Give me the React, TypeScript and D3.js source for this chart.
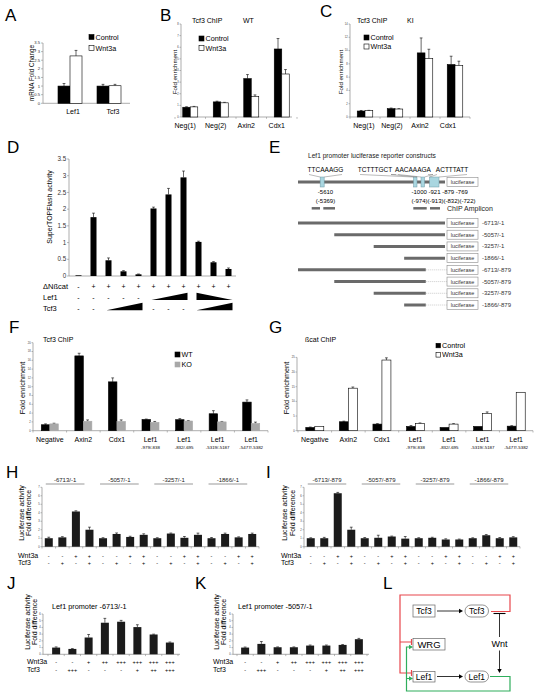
import React from "react";
import * as d3 from "d3";

const FONT = "'Liberation Sans', Arial, Helvetica, sans-serif";
const AXIS = "#8a8a8a";

// ---------- Panel A ----------
const aCats = ["Lef1", "Tcf3"];
const aControl = [1.0, 1.0];
const aControlErr = [0.15, 0.1];
const aWnt3a = [2.75, 1.02];
const aWnt3aErr = [0.32, 0.08];
const aTicks = [0, 0.5, 1, 1.5, 2, 2.5, 3, 3.5];

// ---------- Panels B / C ----------
const chipCats = ["Neg(1)", "Neg(2)", "Axin2", "Cdx1"];
const bControl = [0.84, 1.3, 3.3, 5.85];
const bControlErr = [0.04, 0.06, 0.35, 0.9];
const bWnt3a = [0.87, 1.22, 1.75, 3.7];
const bWnt3aErr = [0.04, 0.04, 0.15, 0.38];
const bTicks = [0, 1, 2, 3, 4, 5, 6, 7, 8];
const cControl = [0.9, 1.25, 9.65, 7.9];
const cControlErr = [0.08, 0.1, 2.25, 1.25];
const cWnt3a = [0.95, 1.2, 8.8, 7.75];
const cWnt3aErr = [0.05, 0.05, 1.4, 0.65];
const cTicks = [0, 2, 4, 6, 8, 10, 12, 14];

// ---------- Panel D ----------
const dConds = ["d1", "d2", "d3", "d4", "d5", "d6", "d7", "d8", "d9", "d10", "d11"];
const dActivity = [0.02, 1.76, 0.47, 0.14, 0.05, 2.02, 2.44, 2.95, 1.02, 0.41, 0.21];
const dErr = [0, 0.12, 0.07, 0.02, 0.01, 0.04, 0.18, 0.19, 0.02, 0.02, 0.03];
const dTicks = [0, 0.5, 1, 1.5, 2, 2.5, 3, 3.5];
const dBcat = ["-", "+", "+", "+", "+", "+", "+", "+", "+", "+", "+"];
const dLef1 = ["-", "-", "-", "-", "-", "", "", "", "", "", ""];
const dTcf3 = ["-", "-", "", "", "", "-", "-", "-", "", "", ""];
const dLef1Wedges = [["d6", "d8", "up"], ["d9", "d11", "down"]];
const dTcf3Wedges = [["d3", "d5", "up"], ["d9", "d11", "up"]];

// ---------- Panel E ----------
const eConstructs = ["-6713/-1", "-5057/-1", "-3257/-1", "-1866/-1", "-6713/-879", "-5057/-879", "-3257/-879", "-1866/-879"];
const eStarts = [-6713, -5057, -3257, -1866, -6713, -5057, -3257, -1866];
const eEnds = [-1, -1, -1, -1, -879, -879, -879, -879];

// ---------- Panels F / G ----------
const fgCats = ["neg", "axin2", "cdx1", "l1", "l2", "l3", "l4"];
const fgTop = ["Negative", "Axin2", "Cdx1", "Lef1", "Lef1", "Lef1", "Lef1"];
const fgSub = ["", "", "", "-979/-838", "-832/-695", "-5319/-5187", "-5477/-5382"];
const fWT = [1.35, 17.0, 11.1, 2.55, 2.5, 3.85, 6.5];
const fWTErr = [0.2, 0.6, 0.9, 0.1, 0.25, 0.7, 0.5];
const fKO = [1.55, 2.15, 2.1, 1.9, 2.2, 2.0, 1.65];
const fKOErr = [0.15, 0.3, 0.35, 0.2, 0.1, 0.1, 0.3];
const fTicks = [0, 2, 4, 6, 8, 10, 12, 14, 16, 18, 20];
const gControl = [1.1, 3.05, 2.25, 1.45, 1.1, 1.45, 1.55];
const gControlErr = [0.15, 0.2, 0.15, 0.3, 0.1, 0.1, 0.15];
const gWnt3a = [1.45, 14.5, 24.1, 2.45, 2.25, 5.9, 13.1];
const gWnt3aErr = [0.1, 0.4, 0.75, 0.2, 0.15, 0.5, 0.1];
const gTicks = [0, 5, 10, 15, 20, 25];

// ---------- Panels H / I ----------
const hiCats = ["h1", "h2", "h3", "h4", "h5", "h6", "h7", "h8", "h9", "h10", "h11", "h12", "h13", "h14", "h15", "h16"];
const hHeaders = ["-6713/-1", "-5057/-1", "-3257/-1", "-1866/-1"];
const iHeaders = ["-6713/-879", "-5057/-879", "-3257/-879", "-1866/-879"];
const hiWnt3a = ["-", "-", "+", "+", "-", "-", "+", "+", "-", "-", "+", "+", "-", "-", "+", "+"];
const hiTcf3 = ["-", "+", "-", "+", "-", "+", "-", "+", "-", "+", "-", "+", "-", "+", "-", "+"];
const hValues = [1.0, 1.1, 4.15, 2.0, 1.0, 1.5, 1.15, 1.4, 1.0, 1.55, 1.05, 1.4, 1.0, 1.5, 1.1, 1.5];
const hErr = [0.12, 0.08, 0.08, 0.3, 0.06, 0.12, 0.08, 0.12, 0.06, 0.06, 0.15, 0.2, 0.08, 0.1, 0.06, 0.1];
const iValues = [1.0, 1.0, 6.3, 2.0, 1.0, 1.05, 1.2, 0.95, 1.0, 1.05, 0.85, 0.85, 1.0, 1.35, 1.0, 1.1];
const iErr = [0.05, 0.1, 0.1, 0.3, 0.08, 0.3, 0.05, 0.25, 0.06, 0.06, 0.08, 0.05, 0.05, 0.08, 0.08, 0.08];
const hiTicks = [0, 1, 2, 3, 4, 5, 6, 7];

// ---------- Panels J / K ----------
const jkCats = ["j1", "j2", "j3", "j4", "j5", "j6", "j7", "j8"];
const jkWnt3a = ["-", "-", "+", "++", "+++", "+++", "+++", "+++"];
const jkTcf3 = ["-", "+++", "-", "-", "-", "+", "++", "+++"];
const jValues = [1.0, 0.8, 2.5, 4.7, 4.85, 4.05, 2.95, 1.75];
const jErr = [0.1, 0.05, 0.45, 0.65, 0.2, 0.35, 0.05, 0.08];
const kValues = [1.0, 1.55, 1.05, 1.05, 1.3, 1.3, 1.4, 2.25];
const kErr = [0.08, 0.35, 0.05, 0.05, 0.08, 0.08, 0.05, 0.12];
const jkTicks = [0, 1, 2, 3, 4, 5, 6];

// ================= helpers =================
function YAxis({ x, y, ticks, fontSize, tick = 2, fmt }: any) {
  const lo = d3.min(ticks) as number;
  const hi = d3.max(ticks) as number;
  return (
    <g>
      <line x1={x} x2={x} y1={y(lo)} y2={y(hi)} stroke={AXIS} strokeWidth={0.7} />
      {ticks.map((t: number, i: number) => (
        <g key={i}>
          <line x1={x - tick} x2={x} y1={y(t)} y2={y(t)} stroke={AXIS} strokeWidth={0.6} />
          <text x={x - tick - 0.8} y={y(t)} dy="0.35em" textAnchor="end" fontSize={fontSize} fill="#333">
            {fmt ? fmt(t) : String(t)}
          </text>
        </g>
      ))}
    </g>
  );
}

function XAxis({ x1, x2, y, bounds }: any) {
  return (
    <g>
      <line x1={x1} x2={x2} y1={y} y2={y} stroke={AXIS} strokeWidth={0.7} />
      {bounds &&
        bounds.map((b: number, i: number) => (
          <line key={i} x1={b} x2={b} y1={y} y2={y + 1.8} stroke={AXIS} strokeWidth={0.6} />
        ))}
    </g>
  );
}

function ErrBar({ cx, y0, y1 }: any) {
  if (Math.abs(y0 - y1) < 0.3) return null;
  return (
    <g>
      <line x1={cx} x2={cx} y1={y0} y2={y1} stroke="#000" strokeWidth={0.6} />
      <line x1={cx - 1.4} x2={cx + 1.4} y1={y1} y2={y1} stroke="#000" strokeWidth={0.6} />
    </g>
  );
}

function Grouped({ cats, range, y, series, groupW }: any) {
  const x = d3.scaleBand<string>().domain(cats).range(range);
  const bw = groupW / series.length;
  return (
    <g>
      {cats.map((c: string, i: number) =>
        series.map((s: any, j: number) => {
          const left = (x(c) as number) + x.bandwidth() / 2 - groupW / 2 + j * bw;
          const v = s.values[i];
          const e = s.errs[i];
          return (
            <g key={c + j}>
              <ErrBar cx={left + bw / 2} y0={y(v)} y1={y(v + e)} />
              <rect x={left} y={y(v)} width={bw} height={y(0) - y(v)} fill={s.fill} stroke={s.stroke || "#000"} strokeWidth={0.6} />
            </g>
          );
        })
      )}
    </g>
  );
}

function bounds(cats: string[], range: number[]) {
  const x = d3.scaleBand<string>().domain(cats).range(range as [number, number]);
  return [...cats.map((c) => x(c) as number), range[1]];
}

function CatLabels({ cats, labels, range, y, size, sub, subY, subSize }: any) {
  const x = d3.scaleBand<string>().domain(cats).range(range);
  return (
    <g>
      {cats.map((c: string, i: number) => {
        const cx = (x(c) as number) + x.bandwidth() / 2;
        return (
          <g key={c}>
            <text x={cx} y={y} fontSize={size} textAnchor="middle">
              {labels ? labels[i] : c}
            </text>
            {sub && sub[i] ? (
              <text x={cx} y={subY} fontSize={subSize} textAnchor="middle">
                {sub[i]}
              </text>
            ) : null}
          </g>
        );
      })}
    </g>
  );
}

function RotLabel({ x, y, text, size }: any) {
  return (
    <text transform={`translate(${x},${y}) rotate(-90)`} textAnchor="middle" fontSize={size}>
      {text}
    </text>
  );
}

function Legend({ x, y, items, size, step, box = 5 }: any) {
  return (
    <g>
      {items.map((it: any, i: number) => (
        <g key={i}>
          <rect x={x} y={y + i * step} width={box} height={box} fill={it[1]} stroke={it[1] === "#fff" ? "#000" : it[1]} strokeWidth={0.6} />
          <text x={x + box + 1.5} y={y + i * step + box} fontSize={size}>
            {it[0]}
          </text>
        </g>
      ))}
    </g>
  );
}

function Letter({ x, y, t }: any) {
  return (
    <text x={x} y={y} fontSize={17}>
      {t}
    </text>
  );
}

// ================= panels =================
function PanelA() {
  const y = d3.scaleLinear().domain([0, 3.5]).range([103.3, 43]);
  const range = [50.5, 128.5];
  return (
    <g>
      <Letter x={5} y={21} t="A" />
      <YAxis x={43} y={y} ticks={aTicks} fontSize={4.2} />
      <XAxis x1={43} x2={130} y={y(0)} />
      <Grouped cats={aCats} range={range} y={y} groupW={24}
        series={[{ values: aControl, errs: aControlErr, fill: "#000" }, { values: aWnt3a, errs: aWnt3aErr, fill: "#fff" }]} />
      <CatLabels cats={aCats} range={[53, 133]} y={114} size={7} />
      <RotLabel x={33.5} y={73} text="mRNA Fold Change" size={6.3} />
      <Legend x={89} y={34.5} items={[["Control", "#000"], ["Wnt3a", "#fff"]]} size={7.2} step={11} />
    </g>
  );
}

function PanelB() {
  const y = d3.scaleLinear().domain([0, 8]).range([117, 24]);
  const range = [175, 297];
  return (
    <g>
      <Letter x={160} y={21} t="B" />
      <text x={192} y={22.5} fontSize={7}>Tcf3 ChIP</text>
      <text x={243} y={22.5} fontSize={7}>WT</text>
      <YAxis x={181} y={y} ticks={bTicks} fontSize={2.6} tick={1.5} />
      <XAxis x1={181} x2={292} y={y(0)} bounds={bounds(chipCats, range)} />
      <Grouped cats={chipCats} range={range} y={y} groupW={15}
        series={[{ values: bControl, errs: bControlErr, fill: "#000" }, { values: bWnt3a, errs: bWnt3aErr, fill: "#fff" }]} />
      <CatLabels cats={chipCats} range={[170, 292]} y={128} size={7} />
      <RotLabel x={177} y={72} text="Fold enrichment" size={6.2} />
      <Legend x={199} y={36} items={[["Control", "#000"], ["Wnt3a", "#fff"]]} size={7.2} step={9.5} />
    </g>
  );
}

function PanelC() {
  const y = d3.scaleLinear().domain([0, 14]).range([117, 24]);
  const range = [350, 470];
  return (
    <g>
      <Letter x={320} y={17} t="C" />
      <text x={357} y={22.5} fontSize={7}>Tcf3 ChIP</text>
      <text x={407} y={22.5} fontSize={7}>KI</text>
      <YAxis x={350} y={y} ticks={cTicks} fontSize={2.6} tick={1.5} />
      <XAxis x1={350} x2={470} y={y(0)} bounds={bounds(chipCats, range)} />
      <Grouped cats={chipCats} range={range} y={y} groupW={15.5}
        series={[{ values: cControl, errs: cControlErr, fill: "#000" }, { values: cWnt3a, errs: cWnt3aErr, fill: "#fff" }]} />
      <CatLabels cats={chipCats} range={[350, 462]} y={128} size={7} />
      <RotLabel x={343} y={72} text="Fold enrichment" size={6.2} />
      <Legend x={364} y={35} items={[["Control", "#000"], ["Wnt3a", "#fff"]]} size={7.2} step={9} />
    </g>
  );
}

function PanelD() {
  const range = [71, 236];
  const x = d3.scaleBand<string>().domain(dConds).range(range as [number, number]);
  const y = d3.scaleLinear().domain([0, 3.5]).range([276, 159]);
  const cx = (c: string) => (x(c) as number) + x.bandwidth() / 2;
  const rowY = [289, 300, 310.5];
  const wedge = (w: any, base: number, h: number) => {
    const xl = cx(w[0]) - 2;
    const xr = cx(w[1]) + 4;
    const pts = w[2] === "up" ? [[xl, base], [xr, base], [xr, base - h]] : [[xl, base], [xr, base], [xl, base - h]];
    return <polygon points={pts.map((p) => p.join(",")).join(" ")} fill="#000" />;
  };
  return (
    <g>
      <Letter x={7} y={153} t="D" />
      <YAxis x={69} y={y} ticks={dTicks} fontSize={6.3} tick={2} />
      <XAxis x1={69} x2={236} y={y(0)} />
      {dConds.map((c, i) => (
        <g key={c}>
          <ErrBar cx={cx(c)} y0={y(dActivity[i])} y1={y(dActivity[i] + dErr[i])} />
          <rect x={cx(c) - 3} y={y(dActivity[i])} width={6} height={y(0) - y(dActivity[i])} fill="#000" />
        </g>
      ))}
      <RotLabel x={52} y={207} text="SuperTOPFlash activity" size={7} />
      <text x={43} y={rowY[0]} fontSize={7.5}>ΔNßcat</text>
      <text x={43} y={rowY[1]} fontSize={7.5}>Lef1</text>
      <text x={43} y={rowY[2]} fontSize={7.5}>Tcf3</text>
      {[dBcat, dLef1, dTcf3].map((row, r) =>
        row.map((m, i) => (m ? (
          <text key={r + "-" + i} x={cx(dConds[i])} y={rowY[r]} fontSize={7} textAnchor="middle">{m}</text>
        ) : null))
      )}
      {dLef1Wedges.map((w, i) => <g key={"lw" + i}>{wedge(w, 300, 7.3)}</g>)}
      {dTcf3Wedges.map((w, i) => <g key={"tw" + i}>{wedge(w, 310.3, 7.5)}</g>)}
    </g>
  );
}

function PanelE() {
  const xs = d3.scaleLinear().domain([-6713, -1]).range([298, 445]);
  const ys = d3.scalePoint<string>().domain(eConstructs).range([223, 305]);
  const lineC = "#6a6a6a";
  const luc = (yc: number, key: string) => (
    <g key={key}>
      <rect x={447} y={yc - 4.5} width={31} height={9} fill="#fff" stroke="#8a8a8a" strokeWidth={0.6} />
      <text x={462.5} y={yc + 2} fontSize={5.5} textAnchor="middle" fill="#333">luciferase</text>
    </g>
  );
  const site = (x0: number, w: number, key: string) => (
    <rect key={key} x={x0} y={177} width={w} height={10} fill="#a9d6e0" stroke="#6f9aa6" strokeWidth={0.5} />
  );
  const seqY = 172.3;
  return (
    <g>
      <Letter x={269} y={153} t="E" />
      <text x={308} y={158.3} fontSize={6.6} fill="#222">Lef1 promoter luciferase reporter constructs</text>
      <line x1={xs(-6713)} x2={xs(-1)} y1={182} y2={182} stroke={lineC} strokeWidth={3} />
      {luc(182, "main")}
      {site(xs(-5610) - 2, 4, "s1")}
      {site(413.5, 3.5, "s2")}
      {site(421, 3.5, "s3")}
      {site(429.5, 9.5, "s4")}
      <text x={325.5} y={seqY} fontSize={6.5} textAnchor="middle">TTCAAAGG</text>
      <text x={375} y={seqY} fontSize={6.5} textAnchor="middle">TCTTTGCT</text>
      <text x={413} y={seqY} fontSize={6.5} textAnchor="middle">AACAAAGA</text>
      <text x={452} y={seqY} fontSize={6.5} textAnchor="middle">ACTTTATT</text>
      <g stroke="#777" strokeWidth={0.5} fill="none">
        <path d={`M309,174.5 L${xs(-5610) - 2},177 M342,174.5 L${xs(-5610) + 2},177`} />
        <path d="M391,174.5 L396,174.5 M360,174.5 L413.5,177 M391,174.5 L417,177" />
        <path d="M398,174.5 L421,177 M428,174.5 L433,174.5 L424.5,177" />
        <path d="M437,174.5 L429.5,177 M467,174.5 L439,177" />
      </g>
      <text x={325.5} y={194} fontSize={6} textAnchor="middle">-5610</text>
      <text x={325.5} y={203.3} fontSize={6} textAnchor="middle">(-5369)</text>
      <text x={411.5} y={194} fontSize={6}>-1000 -921 -879 -769</text>
      <text x={411.5} y={203.3} fontSize={6}>(-974)(-913)(-832)(-722)</text>
      <g stroke={lineC} strokeWidth={2.5}>
        <line x1={311.7} x2={320} y1={208.3} y2={208.3} />
        <line x1={323.3} x2={335} y1={208.3} y2={208.3} />
        <line x1={413.3} x2={426.7} y1={208.3} y2={208.3} />
        <line x1={430} x2={440} y1={208.3} y2={208.3} />
      </g>
      <text x={447} y={210.5} fontSize={7} fill="#222">ChIP Amplicon</text>
      {eConstructs.map((c, i) => {
        const yc = ys(c) as number;
        return (
          <g key={c}>
            <line x1={xs(eStarts[i])} x2={xs(eEnds[i])} y1={yc} y2={yc} stroke={lineC} strokeWidth={3} />
            {eEnds[i] !== -1 ? (
              <line x1={xs(eEnds[i])} x2={447} y1={yc} y2={yc} stroke="#999" strokeWidth={0.5} strokeDasharray="1,1" />
            ) : null}
            {luc(yc, "l" + i)}
            <text x={482} y={yc + 2} fontSize={6} fill="#333">{c}</text>
          </g>
        );
      })}
    </g>
  );
}

function PanelF() {
  const y = d3.scaleLinear().domain([0, 20]).range([430.7, 342.7]);
  const range = [33, 268];
  return (
    <g>
      <Letter x={9} y={333} t="F" />
      <text x={43} y={341.7} fontSize={7}>Tcf3 ChIP</text>
      <YAxis x={33} y={y} ticks={fTicks} fontSize={2.6} tick={1.5} />
      <XAxis x1={33} x2={268} y={y(0)} bounds={bounds(fgCats, range)} />
      <Grouped cats={fgCats} range={range} y={y} groupW={17}
        series={[{ values: fWT, errs: fWTErr, fill: "#000" }, { values: fKO, errs: fKOErr, fill: "#a8a8a8", stroke: "#a8a8a8" }]} />
      <CatLabels cats={fgCats} labels={fgTop} sub={fgSub} range={range} y={442.3} size={7} subY={448.5} subSize={4.4} />
      <RotLabel x={25} y={388} text="Fold enrichment" size={7.3} />
      <Legend x={175} y={352} items={[["WT", "#000"], ["KO", "#a8a8a8"]]} size={7.2} step={10} />
    </g>
  );
}

function PanelG() {
  const y = d3.scaleLinear().domain([0, 25]).range([430.7, 357.4]);
  const range = [298, 533];
  return (
    <g>
      <Letter x={269} y={333} t="G" />
      <text x={305} y={341.7} fontSize={7}>ßcat ChIP</text>
      <YAxis x={297} y={y} ticks={gTicks} fontSize={2.6} tick={1.5} />
      <XAxis x1={297} x2={533} y={y(0)} bounds={bounds(fgCats, range)} />
      <Grouped cats={fgCats} range={range} y={y} groupW={18}
        series={[{ values: gControl, errs: gControlErr, fill: "#000" }, { values: gWnt3a, errs: gWnt3aErr, fill: "#fff" }]} />
      <CatLabels cats={fgCats} labels={fgTop} sub={fgSub} range={range} y={442.3} size={7} subY={448.5} subSize={4.4} />
      <RotLabel x={289} y={388} text="Fold enrichment" size={7.3} />
      <Legend x={436} y={343.3} items={[["Control", "#000"], ["Wnt3a", "#fff"]]} size={7.2} step={9.3} box={4.5} />
    </g>
  );
}

function LucChart({ cats, values, errs, range, axisX, axisEnd, y, barW, ticks }: any) {
  const x = d3.scaleBand<string>().domain(cats).range(range);
  const c = (k: string) => (x(k) as number) + x.bandwidth() / 2;
  return (
    <g>
      <YAxis x={axisX} y={y} ticks={ticks} fontSize={2.6} tick={1.5} />
      <XAxis x1={axisX} x2={axisEnd} y={y(0)} bounds={bounds(cats, range)} />
      {cats.map((k: string, i: number) => (
        <g key={k}>
          <ErrBar cx={c(k)} y0={y(values[i])} y1={y(values[i] + errs[i])} />
          <rect x={c(k) - barW / 2} y={y(values[i])} width={barW} height={y(0) - y(values[i])} fill="#1b1b1b" />
        </g>
      ))}
    </g>
  );
}

function MarkRows({ cats, range, rows, ys, size, labels, labelX, labelSize }: any) {
  const x = d3.scaleBand<string>().domain(cats).range(range);
  const c = (k: string) => (x(k) as number) + x.bandwidth() / 2;
  return (
    <g>
      {labels.map((l: string, r: number) => (
        <text key={l} x={labelX} y={ys[r]} fontSize={labelSize}>{l}</text>
      ))}
      {rows.map((row: string[], r: number) =>
        row.map((m: string, i: number) => (
          <text key={r + "-" + i} x={c(cats[i])} y={ys[r]} fontSize={size} textAnchor="middle">{m}</text>
        ))
      )}
    </g>
  );
}

function Headers({ cats, range, headers }: any) {
  const x = d3.scaleBand<string>().domain(cats).range(range);
  const c = (k: string) => (x(k) as number) + x.bandwidth() / 2;
  return (
    <g>
      {headers.map((h: string, g: number) => {
        const x1 = c(cats[g * 4]) - 3;
        const x2 = c(cats[g * 4 + 3]) - 5;
        return (
          <g key={h}>
            <line x1={x1} x2={x2} y1={484} y2={484} stroke="#555" strokeWidth={0.6} />
            <text x={(x1 + x2) / 2} y={482.3} fontSize={6} textAnchor="middle" fill="#222">{h}</text>
          </g>
        );
      })}
    </g>
  );
}

function PanelH() {
  const y = d3.scaleLinear().domain([0, 7]).range([546.7, 487.3]);
  const range = [42, 259];
  return (
    <g>
      <Letter x={6} y={478} t="H" />
      <Headers cats={hiCats} range={range} headers={hHeaders} />
      <LucChart cats={hiCats} values={hValues} errs={hErr} range={range} axisX={42} axisEnd={259} y={y} barW={8} ticks={hiTicks} />
      <RotLabel x={23.5} y={513} text="Luciferase activity" size={7} />
      <RotLabel x={31} y={513} text="Fold difference" size={7} />
      <MarkRows cats={hiCats} range={range} rows={[hiWnt3a, hiTcf3]} ys={[557.7, 565]} size={5.5}
        labels={["Wnt3a", "Tcf3"]} labelX={18} labelSize={7} />
    </g>
  );
}

function PanelI() {
  const y = d3.scaleLinear().domain([0, 7]).range([546.7, 487.3]);
  const range = [304, 520];
  return (
    <g>
      <Letter x={266} y={478} t="I" />
      <Headers cats={hiCats} range={range} headers={iHeaders} />
      <LucChart cats={hiCats} values={iValues} errs={iErr} range={range} axisX={304} axisEnd={520} y={y} barW={8} ticks={hiTicks} />
      <RotLabel x={287} y={513} text="Luciferase activity" size={7} />
      <RotLabel x={295} y={513} text="Fold difference" size={7} />
      <MarkRows cats={hiCats} range={range} rows={[hiWnt3a, hiTcf3]} ys={[557.7, 565]} size={5.5}
        labels={["Wnt3a", "Tcf3"]} labelX={281} labelSize={7} />
    </g>
  );
}

function PanelJ() {
  const y = d3.scaleLinear().domain([0, 6]).range([654.3, 614]);
  const range = [48, 178];
  return (
    <g>
      <Letter x={7} y={589} t="J" />
      <text x={52} y={609} fontSize={7.3}>Lef1 promoter -6713/-1</text>
      <LucChart cats={jkCats} values={jValues} errs={jErr} range={range} axisX={43} axisEnd={180} y={y} barW={8} ticks={jkTicks} />
      <RotLabel x={29.5} y={622} text="Luciferase activity" size={7} />
      <RotLabel x={37} y={622} text="Fold difference" size={7} />
      <MarkRows cats={jkCats} range={range} rows={[jkWnt3a, jkTcf3]} ys={[664, 671.7]} size={5.5}
        labels={["Wnt3a", "Tcf3"]} labelX={27} labelSize={7} />
    </g>
  );
}

function PanelK() {
  const y = d3.scaleLinear().domain([0, 6]).range([654.3, 614]);
  const range = [237, 367];
  return (
    <g>
      <Letter x={195} y={589} t="K" />
      <text x={238} y={609} fontSize={7.3}>Lef1 promoter -5057/-1</text>
      <LucChart cats={jkCats} values={kValues} errs={kErr} range={range} axisX={233} axisEnd={369} y={y} barW={8} ticks={jkTicks} />
      <RotLabel x={218.5} y={622} text="Luciferase activity" size={7} />
      <RotLabel x={226} y={622} text="Fold difference" size={7} />
      <MarkRows cats={jkCats} range={range} rows={[jkWnt3a, jkTcf3]} ys={[664, 671.7]} size={5.5}
        labels={["Wnt3a", "Tcf3"]} labelX={213} labelSize={7} />
    </g>
  );
}

function PanelL() {
  const red = "#e8474c";
  const green = "#2fae5c";
  const head = (x: number, y: number, dir: string, color: string, key: string) => {
    const pts = dir === "right" ? `${x - 4},${y - 2.2} ${x},${y} ${x - 4},${y + 2.2}` : `${x - 2.2},${y - 4} ${x},${y} ${x + 2.2},${y - 4}`;
    return <polygon key={key} points={pts} fill={color} />;
  };
  return (
    <g>
      <Letter x={383} y={589} t="L" />
      <path d="M491,611.5 H510 V595 H400 V673 H411.5 M400,642 H411.5" fill="none" stroke={red} strokeWidth={1.2} />
      <line x1={411.5} x2={411.5} y1={670} y2={676} stroke={red} strokeWidth={1.2} />
      <line x1={411.5} x2={411.5} y1={639} y2={645} stroke={red} strokeWidth={1.2} />
      <path d="M490,676.5 H510 V691 H406.5 V647 H410 M406.5,678.5 H410" fill="none" stroke={green} strokeWidth={1.2} />
      {head(413, 647, "right", green, "g1")}
      {head(413, 678.5, "right", green, "g2")}
      <rect x={413} y={605} width={22} height={12} fill="#fff" stroke="#666" strokeWidth={0.7} />
      <text x={424} y={614.3} fontSize={8.5} textAnchor="middle">Tcf3</text>
      <line x1={437} x2={459} y1={611} y2={611} stroke="#000" strokeWidth={0.8} />
      {head(463, 611, "right", "#000", "a1")}
      <rect x={465} y={605} width={23.5} height={12} rx={6} fill="#fff" stroke="#666" strokeWidth={0.7} />
      <text x={476.7} y={614.3} fontSize={8.5} textAnchor="middle">Tcf3</text>
      <rect x={413} y={638.5} width={32} height={11.5} fill="#fff" stroke="#666" strokeWidth={0.7} />
      <text x={429} y={647.6} fontSize={9.5} textAnchor="middle">WRG</text>
      <rect x={413} y={671.5} width={22} height={10.5} fill="#fff" stroke="#666" strokeWidth={0.7} />
      <text x={424} y={680} fontSize={8.5} textAnchor="middle">Lef1</text>
      <line x1={437} x2={459} y1={676.5} y2={676.5} stroke="#000" strokeWidth={0.8} />
      {head(463, 676.5, "right", "#000", "a2")}
      <rect x={465} y={671} width={23.5} height={11} rx={5.5} fill="#fff" stroke="#666" strokeWidth={0.7} />
      <text x={476.7} y={679.7} fontSize={8.5} textAnchor="middle">Lef1</text>
      <text x={499.5} y={647} fontSize={9} textAnchor="middle">Wnt</text>
      <line x1={499.5} x2={499.5} y1={637} y2={613.5} stroke="#000" strokeWidth={0.8} />
      <line x1={493.5} x2={505.5} y1={613.5} y2={613.5} stroke="#000" strokeWidth={1.1} />
      <line x1={499.5} x2={499.5} y1={650.5} y2={669} stroke="#000" strokeWidth={0.8} />
      {head(499.5, 673, "down", "#000", "a3")}
    </g>
  );
}

export default function App() {
  return (
    <svg width={537} height={695} viewBox="0 0 537 695" fontFamily={FONT}
      style={{ position: "absolute", left: 0, top: 0, display: "block", background: "#fff" }}>
      <rect width={537} height={695} fill="#fff" />
      <PanelA />
      <PanelB />
      <PanelC />
      <PanelD />
      <PanelE />
      <PanelF />
      <PanelG />
      <PanelH />
      <PanelI />
      <PanelJ />
      <PanelK />
      <PanelL />
    </svg>
  );
}
